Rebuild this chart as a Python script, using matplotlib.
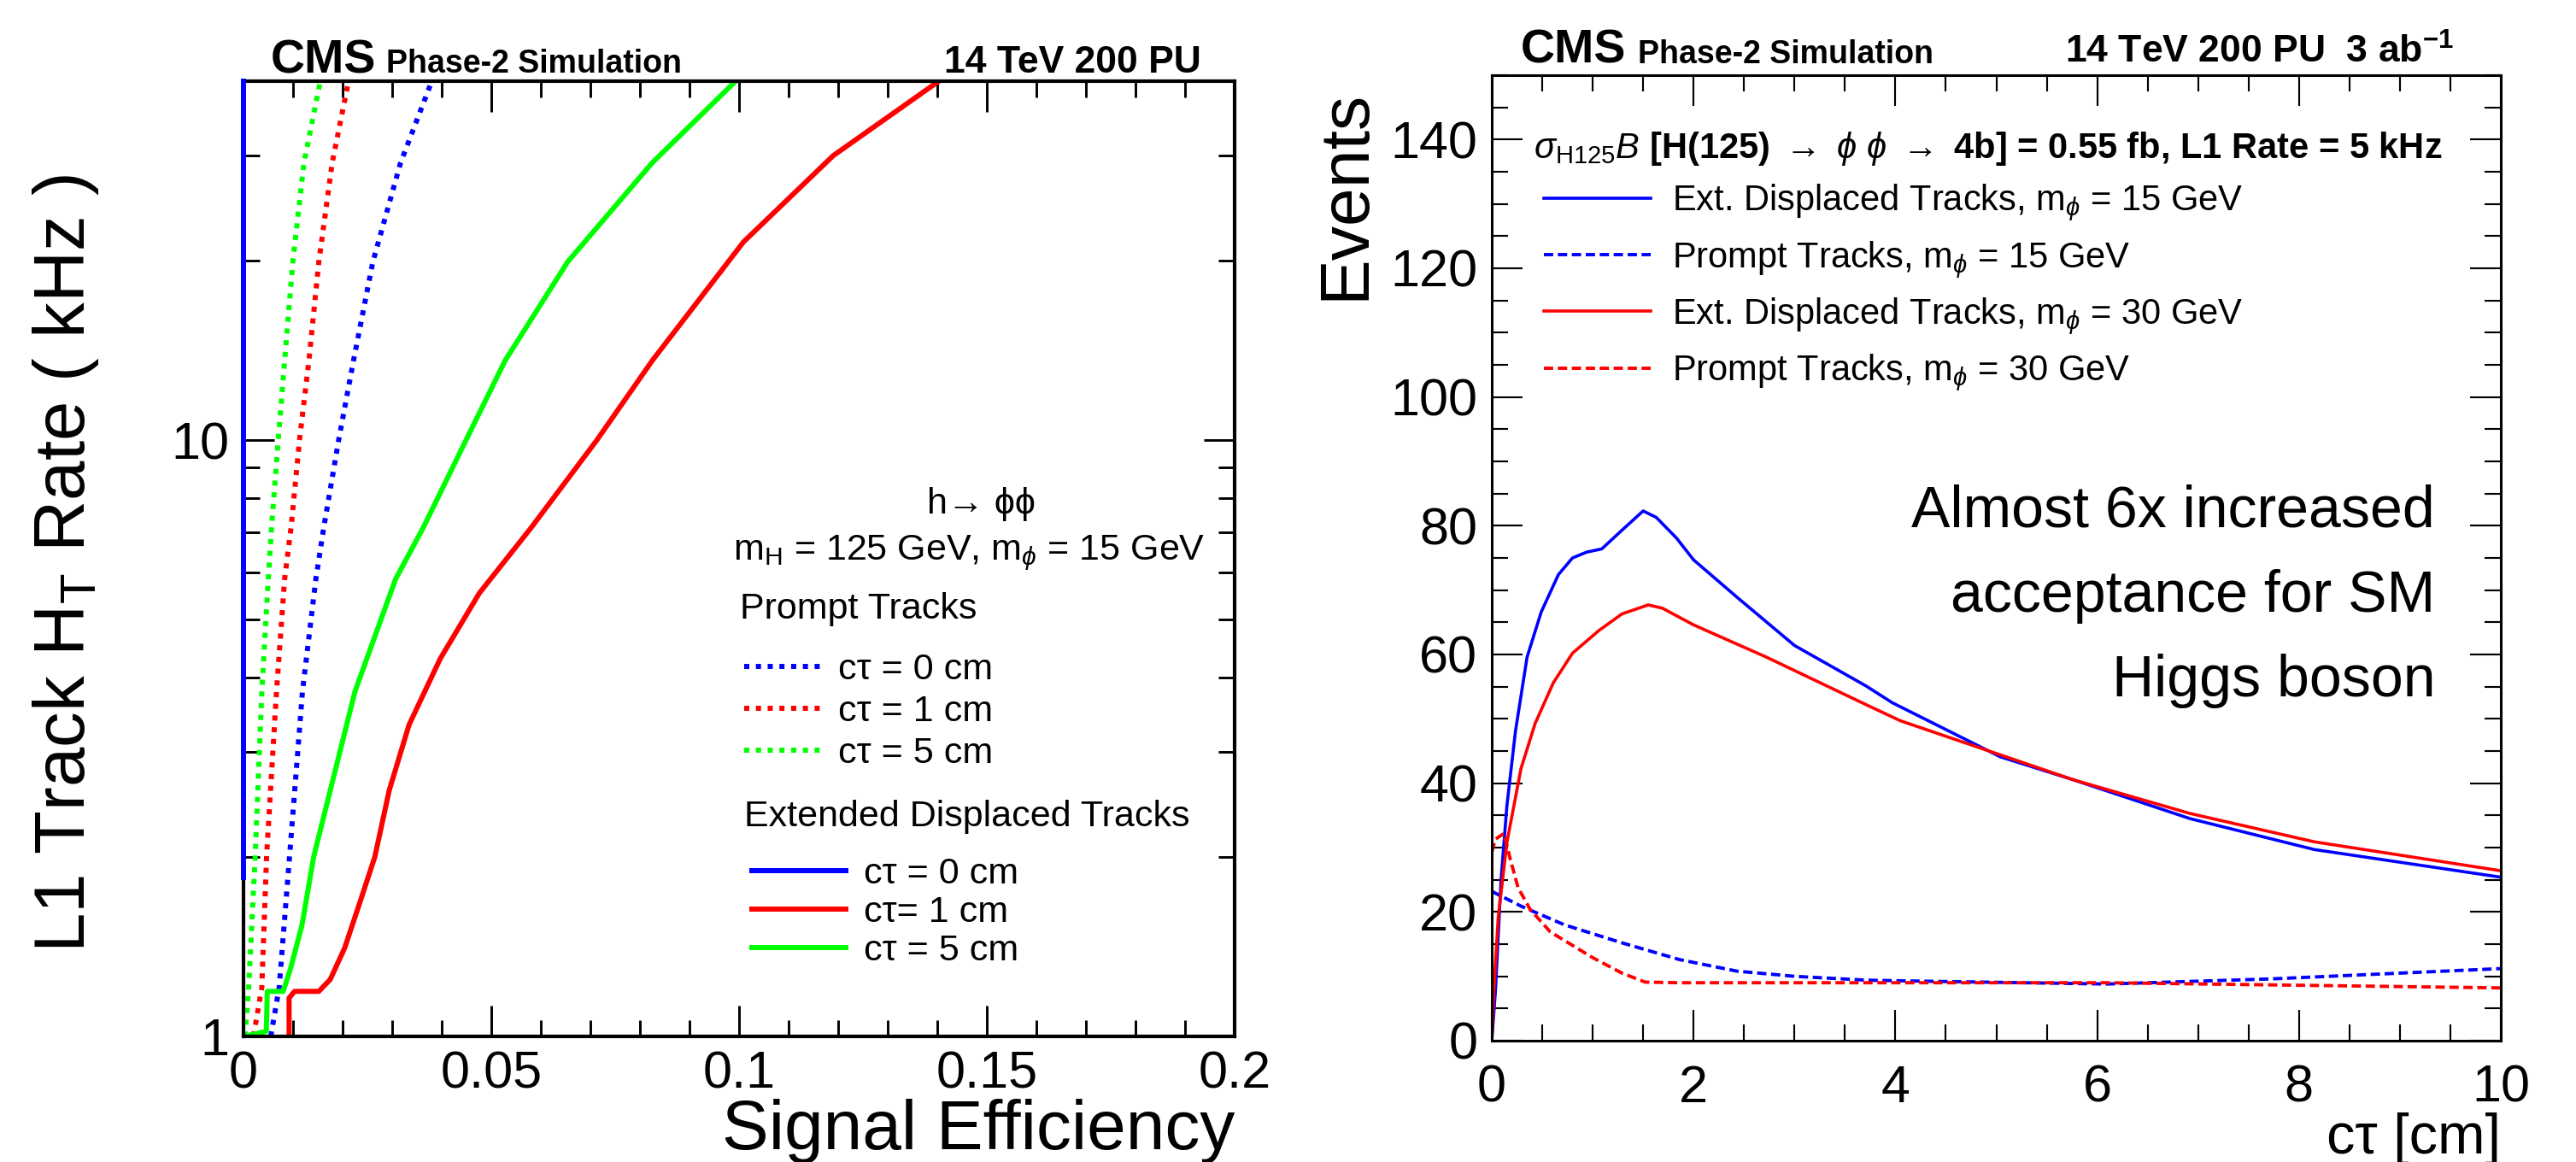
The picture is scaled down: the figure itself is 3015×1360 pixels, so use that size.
"""CMS Phase-2 displaced-track L1 trigger: rate vs signal efficiency and events vs c-tau."""

import matplotlib

matplotlib.use("Agg")
import matplotlib.pyplot as plt
from matplotlib.ticker import FixedLocator, MultipleLocator, NullFormatter

plt.rcParams["font.family"] = ["Liberation Sans", "DejaVu Sans"]
plt.rcParams["mathtext.fontset"] = "custom"
plt.rcParams["mathtext.rm"] = "Liberation Sans"
plt.rcParams["mathtext.it"] = "Liberation Sans:italic"
plt.rcParams["mathtext.bf"] = "Liberation Sans:bold"

# --- left panel: L1 track HT rate [kHz] vs signal efficiency ---
PROMPT_CT0_EFF = [0.0055, 0.0072, 0.0093, 0.0119, 0.0146, 0.0162, 0.0192, 0.0222, 0.0261, 0.0317, 0.0380]
PROMPT_CT0_RATE = [1.0, 1.208, 2.007, 3.79, 5.85, 7.14, 10.0, 13.6, 19.9, 29.2, 40.0]
PROMPT_CT1_EFF = [0.0020, 0.0037, 0.00466, 0.00666, 0.0083, 0.0096, 0.0113, 0.0132, 0.0152, 0.0179, 0.0212]
PROMPT_CT1_RATE = [1.0, 1.208, 2.007, 3.79, 5.85, 7.14, 10.0, 13.6, 19.9, 29.2, 40.0]
PROMPT_CT5_EFF = [0.0003, 0.00104, 0.00236, 0.0037, 0.0050, 0.00566, 0.0070, 0.0083, 0.00995, 0.0122, 0.0155]
PROMPT_CT5_RATE = [1.0, 1.208, 2.007, 3.79, 5.85, 7.14, 10.0, 13.6, 19.9, 29.2, 40.0]

EXT_CT0_EFF = [0.0, 0.0]
EXT_CT0_RATE = [1.85, 40.0]
EXT_CT1_EFF = [0.0092, 0.0092, 0.0103, 0.0152, 0.0175, 0.0204, 0.0233, 0.0265, 0.0294, 0.0334,
               0.0397, 0.0476, 0.0581, 0.0713, 0.0825, 0.1009, 0.119, 0.1403]
EXT_CT1_RATE = [1.0, 1.16, 1.19, 1.19, 1.246, 1.406, 1.66, 2.0, 2.585, 3.33,
                4.30, 5.54, 7.14, 10.0, 13.6, 21.5, 30.0, 40.0]
EXT_CT5_EFF = [0.0003, 0.0046, 0.0048, 0.0080, 0.0095, 0.0118, 0.0142, 0.0225, 0.0307, 0.0363,
               0.0449, 0.0528, 0.0654, 0.0825, 0.0993]
EXT_CT5_RATE = [1.0, 1.02, 1.19, 1.19, 1.30, 1.537, 2.007, 3.79, 5.85, 7.14,
                10.0, 13.6, 19.9, 29.2, 40.0]

EFF_TICKS = [0, 0.05, 0.1, 0.15, 0.2]
EFF_TICK_LABELS = ["0", "0.05", "0.1", "0.15", "0.2"]

# --- right panel: expected events vs c-tau [cm] ---
EXT15_CT = [0, 0.036, 0.092, 0.15, 0.235, 0.35, 0.49, 0.66, 0.80, 0.94, 1.09, 1.29, 1.50, 1.63,
            1.83, 2.0, 2.43, 3.0, 3.71, 3.97, 5.04, 5.77, 6.92, 8.15, 10.0]
EXT15_EV = [0, 7.6, 25.0, 36.5, 48.1, 59.6, 66.6, 72.4, 75.0, 75.9, 76.4, 79.3, 82.3, 81.3,
            78.1, 74.7, 68.9, 61.4, 55.1, 52.5, 44.1, 40.5, 34.5, 29.7, 25.4]
EXT30_CT = [0, 0.02, 0.064, 0.15, 0.29, 0.43, 0.61, 0.80, 1.06, 1.29, 1.55, 1.69, 2.0, 2.72,
            3.71, 4.05, 5.77, 6.92, 8.15, 10.0]
EXT30_EV = [0, 7.6, 19.2, 30.8, 42.3, 49.3, 55.6, 60.2, 63.7, 66.3, 67.7, 67.2, 64.6, 59.6,
            52.2, 49.7, 40.5, 35.3, 30.9, 26.4]
PROMPT15_CT = [0, 0.29, 0.72, 1.29, 1.86, 2.43, 3.0, 3.71, 4.05, 6.1, 7.73, 10.0]
PROMPT15_EV = [23.2, 20.9, 18.0, 15.2, 12.6, 10.8, 10.0, 9.4, 9.3, 8.8, 9.6, 11.2]
PROMPT30_CT = [0, 0.036, 0.12, 0.18, 0.26, 0.38, 0.58, 1.0, 1.29, 1.52, 1.86, 3.71, 6.1, 10.0]
PROMPT30_EV = [29.3, 31.3, 32.2, 28.4, 23.8, 20.4, 16.9, 12.9, 10.5, 9.1, 9.0, 9.0, 9.0, 8.2]

BLUE, RED, GREEN = "#0000ff", "#ff0000", "#00ff00"
W, H = 3015, 1360


def fx(px):
    return px / W


def fy(py):
    return 1 - py / H


def root_axes(ax, lw):
    for s in ax.spines.values():
        s.set_linewidth(lw)
    ax.tick_params(which="both", direction="in", top=True, right=True, width=lw * 0.7,
                   labelsize=44, pad=12)
    ax.tick_params(which="major", length=26)
    ax.tick_params(which="minor", length=14)


fig = plt.figure(figsize=(W / 100, H / 100), dpi=100)

# ------------------------------------------------------------- left panel
ax1 = fig.add_axes([fx(285), fy(1213), fx(1445) - fx(285), fy(95) - fy(1213)])
dot = (0, (1.0, 1.3))
l_p0, = ax1.plot(PROMPT_CT0_EFF, PROMPT_CT0_RATE, color=BLUE, lw=4.3, ls=dot, label="c\u03c4 = 0 cm")
l_p1, = ax1.plot(PROMPT_CT1_EFF, PROMPT_CT1_RATE, color=RED, lw=4.3, ls=dot, label="c\u03c4 = 1 cm")
l_p5, = ax1.plot(PROMPT_CT5_EFF, PROMPT_CT5_RATE, color=GREEN, lw=4.3, ls=dot, label="c\u03c4 = 5 cm")
l_e0, = ax1.plot(EXT_CT0_EFF, EXT_CT0_RATE, color=BLUE, lw=4.3, label="c\u03c4 = 0 cm", clip_on=False, zorder=5)
l_e1, = ax1.plot(EXT_CT1_EFF, EXT_CT1_RATE, color=RED, lw=4.3, label="c\u03c4= 1 cm")
l_e5, = ax1.plot(EXT_CT5_EFF, EXT_CT5_RATE, color=GREEN, lw=4.3, label="c\u03c4 = 5 cm")

ax1.set_yscale("log")
ax1.set_xlim(0, 0.2)
ax1.set_ylim(1, 40)
ax1.set_xticks(EFF_TICKS)
ax1.set_xticklabels(EFF_TICK_LABELS)
ax1.xaxis.set_minor_locator(MultipleLocator(0.01))
ax1.yaxis.set_major_locator(FixedLocator([1, 10]))
ax1.set_yticklabels(["1", "10"])
ax1.yaxis.set_minor_locator(FixedLocator([2, 3, 4, 5, 6, 7, 8, 9, 20, 30, 40]))
ax1.yaxis.set_minor_formatter(NullFormatter())
root_axes(ax1, 3.0)

fig.text(fx(77), fy(659), r"L1 Track H$_\mathrm{T}$ Rate ( kHz )", rotation=90,
         ha="center", va="center", size=60)
fig.text(fx(1445), fy(1324), "Signal Efficiency", ha="right", va="center", size=59)
fig.text(fx(317), fy(85), "CMS", weight="bold", size=40, va="baseline")
fig.text(fx(452), fy(85), "Phase-2 Simulation", weight="bold", size=27, va="baseline")
fig.text(fx(1406), fy(85), "14 TeV 200 PU", weight="bold", size=32, ha="right", va="baseline")

fig.text(fx(1148), fy(590), "h\u2192 \u03d5\u03d5", size=31, ha="center", va="center")
fig.text(fx(1410), fy(647), r"m$_\mathrm{H}$ = 125 GeV, m$_\phi$ = 15 GeV", size=31,
         ha="right", va="center")
fig.text(fx(866), fy(713), "Prompt Tracks", size=31, ha="left", va="center")
fig.text(fx(871), fy(956), "Extended Displaced Tracks", size=31, ha="left", va="center")

leg1 = ax1.legend(handles=[l_p0, l_p1, l_p5], loc="center left",
                  bbox_to_anchor=(fx(871), fy(833)), bbox_transform=fig.transFigure,
                  frameon=False, fontsize=31, handlelength=2.1, handletextpad=0.45,
                  labelspacing=0.21, borderpad=0, borderaxespad=0)
ax1.add_artist(leg1)
ax1.legend(handles=[l_e0, l_e1, l_e5], loc="center left",
           bbox_to_anchor=(fx(880), fy(1068)), bbox_transform=fig.transFigure,
           frameon=False, fontsize=31, handlelength=2.55, handletextpad=0.5,
           labelspacing=0.12, borderpad=0, borderaxespad=0)

# ------------------------------------------------------------ right panel
ax2 = fig.add_axes([fx(1746), fy(1218), fx(2927) - fx(1746), fy(88) - fy(1218)])
dash = (0, (2.8, 1.4))
r_e15, = ax2.plot(EXT15_CT, EXT15_EV, color=BLUE, lw=2.6,
                  label=r"Ext. Displaced Tracks, m$_\phi$ = 15 GeV")
r_p15, = ax2.plot(PROMPT15_CT, PROMPT15_EV, color=BLUE, lw=2.8, ls=dash,
                  label=r"Prompt Tracks, m$_\phi$ = 15 GeV")
r_e30, = ax2.plot(EXT30_CT, EXT30_EV, color=RED, lw=2.6,
                  label=r"Ext. Displaced Tracks, m$_\phi$ = 30 GeV")
r_p30, = ax2.plot(PROMPT30_CT, PROMPT30_EV, color=RED, lw=2.8, ls=dash,
                  label=r"Prompt Tracks, m$_\phi$ = 30 GeV")
ax2.set_xlim(0, 10)
ax2.set_ylim(0, 150)
ax2.xaxis.set_major_locator(MultipleLocator(2))
ax2.xaxis.set_minor_locator(MultipleLocator(0.5))
ax2.yaxis.set_major_locator(MultipleLocator(20))
ax2.yaxis.set_minor_locator(MultipleLocator(5))
root_axes(ax2, 2.2)
ax2.tick_params(axis="x", pad=20)

ax2.legend(handles=[r_e15, r_p15, r_e30, r_p30], loc="center left",
           bbox_to_anchor=(fx(1807), fy(337)), bbox_transform=fig.transFigure,
           frameon=False, fontsize=30, handlelength=3.0, handletextpad=0.6,
           labelspacing=0.45, borderpad=0, borderaxespad=0)

fig.text(fx(1795), fy(174),
         r"$\sigma_\mathrm{H125}$$\mathbf{\mathit{B}}$ [H(125) $\rightarrow$ $\phi$ $\phi$ $\rightarrow$ "
         r"4b] = 0.55 fb, L1 Rate = 5 kHz",
         size=30, weight="bold", ha="left", va="center")

fig.text(fx(2850), fy(698), "Almost 6x increased\nacceptance for SM\nHiggs boson",
         size=49, ha="right", va="center", multialignment="right", linespacing=1.7)

fig.text(fx(1575), fy(228), "Events", rotation=90, ha="center", va="center", size=58)
fig.text(fx(2927), fy(1333), "c\u03c4 [cm]", ha="right", va="center", size=48)
fig.text(fx(1780), fy(74), "CMS", weight="bold", size=40, va="baseline")
fig.text(fx(1917), fy(74), "Phase-2 Simulation", weight="bold", size=27, va="baseline")
fig.text(fx(2872), fy(74), r"14 TeV 200 PU  3 ab$^{\mathbf{-1}}$", weight="bold", size=32,
         ha="right", va="baseline")

fig.savefig("out.png", dpi=100)
